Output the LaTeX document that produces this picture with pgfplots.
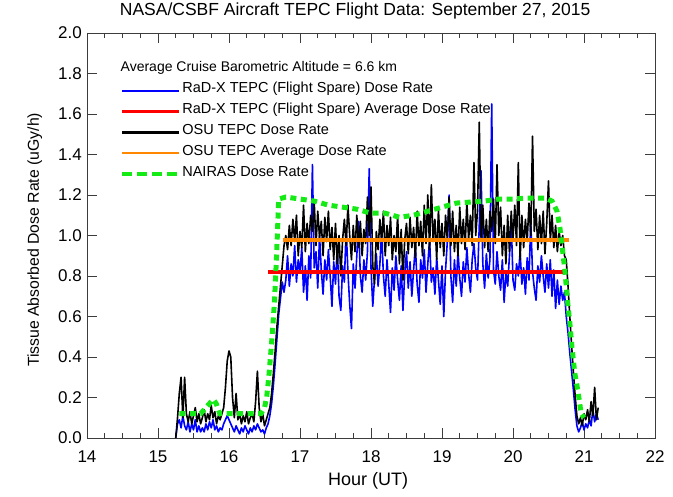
\documentclass[border=0pt]{standalone}
\usepackage{pgfplots}
\usepackage{pgfplotstable}
\pgfplotsset{compat=1.18}
\usepackage{fontspec}
\setmainfont{Liberation Sans}
\definecolor{naigreen}{RGB}{20,235,20}
\definecolor{osuorange}{RGB}{255,136,0}
\definecolor{framegray}{RGB}{60,60,60}

\pgfplotstableread{
h rad osu
15.250 0.00 0.00
15.275 0.07 0.10
15.300 0.09 0.22
15.325 0.05 0.30
15.350 0.11 0.10
15.375 0.06 0.30
15.400 0.04 0.12
15.425 0.08 0.08
15.450 0.03 0.13
15.475 0.07 0.07
15.500 0.04 0.11
15.525 0.09 0.15
15.550 0.03 0.08
15.575 0.06 0.12
15.600 0.03 0.07
15.625 0.05 0.10
15.650 0.03 0.14
15.675 0.07 0.08
15.700 0.04 0.12
15.725 0.08 0.09
15.750 0.05 0.16
15.775 0.09 0.10
15.800 0.04 0.13
15.825 0.06 0.07
15.850 0.03 0.11
15.875 0.05 0.09
15.900 0.04 0.12
15.925 0.07 0.15
15.950 0.09 0.25
15.975 0.11 0.38
16.000 0.09 0.43
16.025 0.07 0.40
16.050 0.05 0.20
16.075 0.03 0.10
16.100 0.06 0.22
16.125 0.04 0.09
16.150 0.02 0.12
16.175 0.05 0.07
16.200 0.03 0.11
16.225 0.06 0.08
16.250 0.04 0.13
16.275 0.02 0.07
16.300 0.05 0.10
16.325 0.03 0.12
16.350 0.06 0.08
16.375 0.04 0.18
16.400 0.07 0.33
16.425 0.05 0.15
16.450 0.03 0.08
16.475 0.04 0.12
16.500 0.02 0.06
16.525 0.05 0.09
16.550 0.07 0.12
16.575 0.11 0.15
16.600 0.17 0.22
16.625 0.26 0.32
16.650 0.37 0.43
16.675 0.49 0.55
16.700 0.61 0.65
16.725 0.69 0.75
16.750 0.77 0.85
16.775 0.72 0.95
16.800 0.78 1.00
16.825 0.90 0.93
16.850 0.75 1.05
16.875 0.86 0.95
16.900 0.80 1.08
16.925 0.95 0.97
16.950 0.77 1.10
16.975 0.88 0.90
17.000 0.82 1.02
17.025 0.94 0.94
17.050 0.72 1.15
17.075 0.85 0.92
17.100 0.68 1.06
17.125 0.90 0.96
17.150 0.79 1.10
17.175 1.35 1.02
17.200 0.84 1.17
17.225 0.92 0.95
17.250 0.74 1.12
17.275 1.00 0.99
17.300 0.83 1.07
17.325 0.71 0.90
17.350 0.88 1.09
17.375 0.78 0.97
17.400 0.93 1.12
17.425 0.80 0.93
17.450 0.65 1.04
17.475 0.87 0.88
17.500 0.76 1.06
17.525 0.95 0.86
17.550 0.70 1.00
17.575 0.63 0.80
17.600 0.85 0.98
17.625 0.77 1.08
17.650 1.04 0.95
17.675 0.82 1.15
17.700 0.66 1.00
17.725 0.54 0.88
17.750 0.86 1.05
17.775 0.74 0.92
17.800 0.90 1.10
17.825 1.07 0.94
17.850 0.80 1.07
17.875 0.72 0.90
17.900 0.88 1.03
17.925 0.78 0.96
17.950 0.92 1.19
17.975 1.33 1.00
18.000 0.84 1.24
18.025 0.65 0.85
18.050 0.79 0.76
18.075 0.91 1.02
18.100 0.75 0.93
18.125 0.86 1.08
18.150 1.02 0.97
18.175 0.80 1.12
18.200 0.70 0.90
18.225 0.88 1.05
18.250 0.76 0.95
18.275 0.62 1.09
18.300 0.84 0.88
18.325 0.73 1.00
18.350 0.90 0.92
18.375 0.78 1.10
18.400 0.68 0.86
18.425 0.85 1.03
18.450 0.63 0.78
18.475 0.81 0.98
18.500 0.92 1.06
18.525 0.74 0.91
18.550 0.87 1.09
18.575 0.70 0.94
18.600 0.83 1.04
18.625 0.95 0.89
18.650 0.76 1.12
18.675 0.67 0.95
18.700 0.88 1.07
18.725 0.79 0.90
18.750 0.93 1.15
18.775 0.72 0.96
18.800 0.86 1.20
18.825 0.98 0.93
18.850 0.77 1.25
18.875 0.84 0.97
18.900 0.71 1.08
18.925 0.89 0.88
18.950 0.78 1.13
18.975 0.66 0.94
19.000 0.85 1.06
19.025 0.60 0.90
19.050 0.83 1.10
19.075 0.97 0.98
19.100 1.20 1.19
19.125 0.80 0.95
19.150 0.67 1.12
19.175 0.88 0.92
19.200 0.75 1.05
19.225 0.92 0.90
19.250 0.79 1.14
19.275 0.70 0.96
19.300 0.87 1.08
19.325 0.77 0.93
19.350 0.94 1.17
19.375 0.81 0.98
19.400 0.72 1.10
19.425 0.88 0.95
19.450 0.96 1.36
19.475 0.84 1.00
19.500 0.78 1.12
19.525 1.05 1.56
19.550 1.32 0.99
19.575 0.86 1.15
19.600 0.74 0.94
19.625 0.91 1.08
19.650 0.79 0.92
19.675 0.88 1.12
19.700 1.65 1.02
19.725 0.83 1.18
19.750 0.76 0.96
19.775 0.92 1.35
19.800 0.80 1.00
19.825 0.73 1.14
19.850 0.88 0.90
19.875 0.67 1.05
19.900 0.82 0.86
19.925 0.75 1.10
19.950 0.90 0.92
19.975 1.07 1.12
20.000 0.78 0.98
20.025 0.73 1.15
20.050 0.86 0.95
20.075 0.80 1.36
20.100 0.92 0.88
20.125 0.76 1.10
20.150 0.84 0.94
20.175 0.71 1.08
20.200 0.89 0.97
20.225 0.78 1.16
20.250 1.07 1.00
20.275 0.82 1.49
20.300 0.74 1.02
20.325 0.68 1.13
20.350 0.85 0.93
20.375 0.77 1.10
20.400 0.90 0.96
20.425 0.80 1.12
20.450 0.72 0.91
20.475 0.86 1.06
20.500 0.74 1.27
20.525 0.88 0.97
20.550 0.70 1.10
20.575 0.83 0.94
20.600 0.64 1.05
20.625 0.78 0.92
20.650 0.66 1.02
20.675 0.75 0.95
20.700 0.68 1.00
20.725 0.72 0.90
20.750 0.60 0.88
20.775 0.52 0.75
20.800 0.42 0.60
20.825 0.33 0.46
20.850 0.24 0.33
20.875 0.14 0.21
20.900 0.06 0.11
20.925 0.03 0.07
20.950 0.05 0.10
20.975 0.08 0.06
21.000 0.04 0.12
21.025 0.07 0.09
21.050 0.05 0.14
21.075 0.09 0.08
21.100 0.06 0.18
21.125 0.14 0.11
21.150 0.08 0.25
21.175 0.12 0.09
21.200 0.09 0.15
}\flight

\pgfplotstableread{
h nairas
15.30 0.12
15.40 0.12
15.50 0.12
15.60 0.12
15.65 0.14
15.70 0.16
15.75 0.18
15.78 0.19
15.82 0.17
15.87 0.12
16.00 0.12
16.20 0.12
16.45 0.12
16.50 0.15
16.53 0.20
16.56 0.30
16.60 0.47
16.64 0.67
16.67 0.90
16.70 1.18
16.80 1.19
17.00 1.18
17.20 1.17
17.40 1.15
17.60 1.14
17.80 1.13
18.00 1.11
18.20 1.11
18.40 1.09
18.60 1.10
18.80 1.12
19.00 1.14
19.20 1.16
19.40 1.165
19.60 1.17
19.80 1.18
20.00 1.18
20.20 1.185
20.45 1.185
20.55 1.17
20.62 1.12
20.66 1.04
20.70 0.92
20.73 0.83
20.77 0.67
20.80 0.57
20.83 0.45
20.87 0.32
20.92 0.22
20.96 0.12
21.00 0.10
}\nairas

\begin{document}
\begin{tikzpicture}
\begin{axis}[
  width=568bp, height=405bp, scale only axis,
  xmin=14, xmax=22, ymin=0, ymax=2,
  xtick={14,15,16,17,18,19,20,21,22},
  ytick={0,0.2,0.4,0.6,0.8,1.0,1.2,1.4,1.6,1.8,2.0},
  minor x tick num=3,
  tick align=inside,
  major tick length=10bp, minor tick length=5bp,
  axis line style={line width=0.8bp, framegray},
  every tick/.style={line width=0.7bp, framegray},
  /pgf/number format/assume math mode=true,
  xticklabel style={font=\fontsize{17bp}{20bp}\selectfont, anchor=base, yshift=-24bp, inner sep=0pt},
  yticklabel style={font=\fontsize{17bp}{20bp}\selectfont, anchor=east, xshift=-5bp, inner sep=0pt,
    /pgf/number format/.cd, fixed, fixed zerofill, precision=1},
  xlabel={Hour (UT)},
  ylabel={Tissue Absorbed Dose Rate (uGy/h)},
  xlabel style={font=\fontsize{18bp}{21bp}\selectfont, at={(axis description cs:0.495,-0.1185)}, anchor=base},
  ylabel style={font=\fontsize{15.8bp}{18bp}\selectfont, at={(axis description cs:-0.0845,0.489)}, anchor=base},
  title={NASA/CSBF Aircraft TEPC Flight Data: September 27, 2015},
  title style={font=\fontsize{17.5bp}{20bp}\selectfont, at={(axis description cs:0.472,1.0296)}, anchor=base},
  legend image code/.code={\path[draw=none] (0bp,1.5bp) -- (57bp,1.5bp); \draw[#1] (0bp,-1.5bp) -- (57bp,-1.5bp);},
  legend style={at={(axis description cs:0.058,0.882)}, anchor=north west, draw=none, fill=none,
    font=\fontsize{14.5bp}{17bp}\selectfont, inner sep=0pt, row sep=4.5bp,
    nodes={inner sep=1.2bp, text height=10.5bp, text depth=3.5bp}},
  legend cell align=left,
]
\addlegendimage{blue, line width=2.2bp}
\addlegendentry{RaD-X TEPC (Flight Spare) Dose Rate}
\addlegendimage{red, line width=2.2bp}
\addlegendentry{RaD-X TEPC (Flight Spare) Average Dose Rate}
\addlegendimage{black, line width=2.2bp}
\addlegendentry{OSU TEPC Dose Rate}
\addlegendimage{osuorange, line width=2.2bp}
\addlegendentry{OSU TEPC Average Dose Rate}
\addlegendimage{naigreen, line width=4bp, dash pattern=on 10bp off 5bp}
\addlegendentry{NAIRAS Dose Rate}

\addplot[forget plot, blue, line width=1.6bp, line join=round] table[x=h, y=rad]{\flight};
\addplot[forget plot, black, line width=1.6bp, line join=round] table[x=h, y=osu]{\flight};
\addplot[forget plot, red, line width=4bp] coordinates {(16.55,0.82) (20.75,0.82)};
\addplot[forget plot, osuorange, line width=4bp] coordinates {(16.76,0.98) (20.79,0.98)};
\addplot[forget plot, naigreen, line width=5bp, dash pattern=on 6bp off 4.5bp] table[x=h, y=nairas]{\nairas};

\node[anchor=base west, inner sep=0pt, font=\fontsize{14bp}{16bp}\selectfont]
  at (axis description cs:0.059,0.905) {Average Cruise Barometric Altitude = 6.6 km};
\coordinate (sw) at (rel axis cs:0,0);
\coordinate (ne) at (rel axis cs:1,1);
\end{axis}
\pgfresetboundingbox
\path ([shift={(-87bp,-59bp)}]sw) rectangle ([shift={(18bp,33bp)}]ne);
\end{tikzpicture}
\end{document}
